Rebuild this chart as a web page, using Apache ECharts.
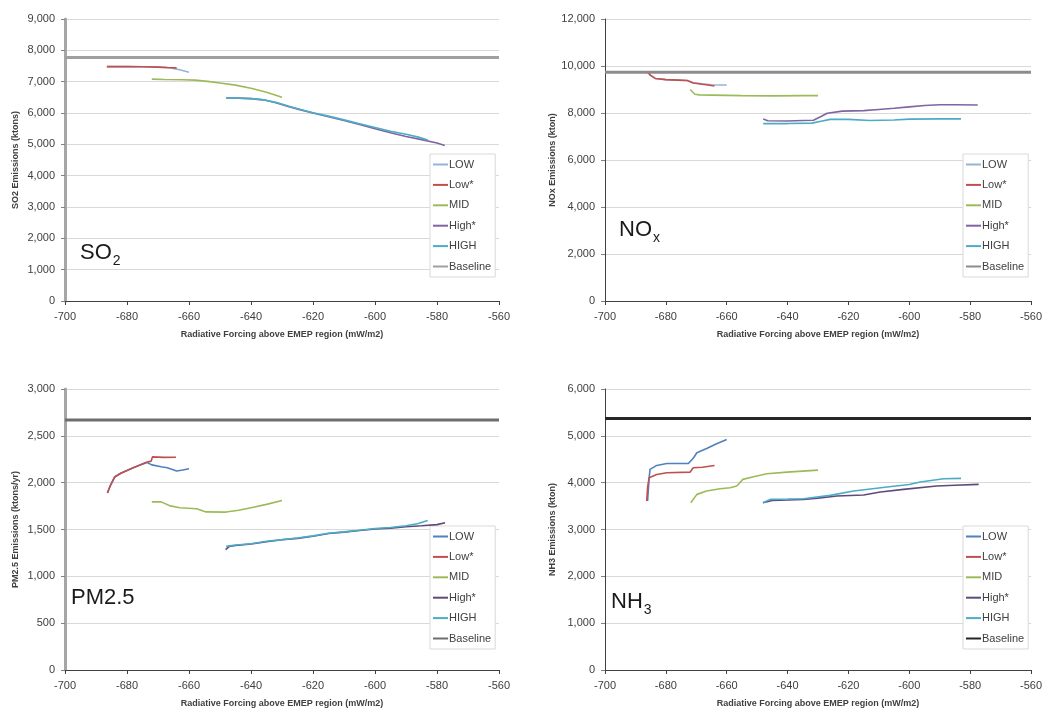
<!DOCTYPE html>
<html><head><meta charset="utf-8">
<script src="https://cdn.jsdelivr.net/npm/echarts@6/dist/echarts.min.js"></script>
<style>html,body{margin:0;padding:0;background:#fff}#c{width:1054px;height:709px}</style>
</head><body><div id="c"></div>
<script>
// ---------- data ----------
const seriesNames = ['LOW', 'Low*', 'MID', 'High*', 'HIGH', 'Baseline'];
const xName = 'Radiative Forcing above EMEP region (mW/m2)';
const xRange = [-700, -560, 20];
const yNames = ['SO2 Emissions (ktons)', 'NOx Emissions (kton)', 'PM2.5 Emissions (ktons/yr)', 'NH3 Emissions (kton)'];
const yRanges = [[0, 9000, 1000], [0, 12000, 2000], [0, 3000, 500], [0, 6000, 1000]];
const panelLabels = [['SO', '2'], ['NO', 'x'], ['PM2.5', ''], ['NH', '3']];

const so2Low = [[-686.5,7480],[-680,7480],[-675,7475],[-670,7465],[-666,7440],[-663,7380],[-660,7300]];
const so2LowStar = [[-686.5,7480],[-680,7480],[-675,7475],[-670,7465],[-667,7450],[-664,7440]];
const so2Mid = [[-672,7080],[-668,7070],[-662,7060],[-658,7050],[-654,7010],[-650,6960],[-645,6890],[-640,6790],[-635,6660],[-630,6500]];
const so2HighStar = [[-648,6480],[-644,6475],[-640,6460],[-636,6420],[-632,6330],[-628,6210],[-624,6100],[-620,6000],[-615,5880],[-610,5760],[-605,5630],[-600,5500],[-595,5370],[-590,5250],[-585,5150],[-580,5040],[-577.5,4960]];
const so2High = [[-648,6480],[-644,6475],[-640,6460],[-636,6420],[-632,6340],[-628,6220],[-624,6110],[-620,6010],[-615,5900],[-610,5780],[-605,5660],[-600,5540],[-595,5420],[-590,5320],[-586,5230],[-583,5140]];
const so2Base = [[-700,7770],[-560,7770]];

const noxLow = [[-686,9740],[-685,9600],[-683.5,9470],[-680,9420],[-676,9400],[-673,9380],[-671,9290],[-668,9240],[-665,9200],[-662,9190],[-660,9190]];
const noxLowStar = [[-686,9740],[-685,9600],[-683.5,9470],[-680,9420],[-676,9400],[-673,9380],[-671,9280],[-668,9220],[-664,9150]];
const noxMid = [[-672,9000],[-670.5,8800],[-669,8770],[-665,8760],[-655,8740],[-645,8730],[-635,8740],[-630,8740]];
const noxHighStar = [[-648,7740],[-646.5,7670],[-640,7660],[-635,7680],[-631.5,7690],[-629,7850],[-627,7990],[-622,8080],[-615,8100],[-610,8150],[-605,8200],[-600,8260],[-595,8320],[-590,8350],[-585,8350],[-577.5,8340]];
const noxHigh = [[-648,7550],[-640,7550],[-632,7570],[-629,7650],[-626,7730],[-620,7730],[-613,7680],[-605,7700],[-600,7740],[-590,7750],[-583,7750]];
const noxBase = [[-700,9730],[-560,9730]];

const pmLow = [[-686.3,1890],[-685.5,1960],[-684,2060],[-682,2100],[-680,2130],[-678,2160],[-676,2185],[-673.5,2215],[-672,2190],[-669,2170],[-667,2160],[-664,2125],[-662,2135],[-660,2148]];
const pmLowStar = [[-686.3,1890],[-685.5,1960],[-684,2060],[-682,2100],[-680,2130],[-678,2160],[-676,2185],[-674,2215],[-672.2,2230],[-671.8,2275],[-668,2270],[-664.2,2272]];
const pmMid = [[-672,1795],[-669,1795],[-666,1752],[-663,1733],[-657.5,1722],[-654.5,1688],[-648,1686],[-644,1705],[-640,1733],[-635,1768],[-630,1810]];
const pmHighStar = [[-648.2,1285],[-647,1320],[-645,1330],[-640,1345],[-635,1370],[-630,1390],[-625,1405],[-620,1428],[-615,1458],[-610,1472],[-605,1490],[-600,1505],[-595,1515],[-590,1530],[-585,1540],[-580,1552],[-577.4,1573]];
const pmHigh = [[-648,1320],[-645,1335],[-640,1348],[-635,1375],[-630,1392],[-625,1410],[-620,1432],[-615,1460],[-610,1475],[-605,1492],[-600,1510],[-595,1522],[-590,1540],[-586,1565],[-583,1597]];
const pmBase = [[-700,2670],[-560,2670]];

const nh3Low = [[-686,3608],[-685.5,4100],[-685.2,4283],[-683,4368],[-679.7,4410],[-672.6,4410],[-671,4520],[-669.8,4638],[-666.6,4730],[-663.3,4830],[-660,4922]];
const nh3LowStar = [[-686.3,3608],[-686,3900],[-685.5,4105],[-683,4176],[-679.7,4212],[-672,4226],[-671,4318],[-668,4330],[-664,4368]];
const nh3Mid = [[-671.8,3572],[-669.8,3750],[-666.6,3821],[-662.2,3871],[-658.9,3892],[-656.7,3928],[-654.7,4070],[-651.2,4126],[-646.8,4190],[-640.2,4226],[-630,4268]];
const nh3HighStar = [[-648.1,3572],[-645,3620],[-640,3630],[-634.8,3643],[-630,3670],[-623.8,3714],[-615,3736],[-609.5,3800],[-601.9,3857],[-591,3928],[-585,3945],[-577.2,3963]];
const nh3High = [[-648.1,3572],[-645.7,3643],[-640,3650],[-634.8,3658],[-626,3729],[-618.3,3821],[-607.3,3906],[-600,3960],[-596.4,4013],[-588.7,4084],[-583,4091]];
const nh3Base = [[-700,5370],[-560,5370]];

const panelData = [
  [so2Low, so2LowStar, so2Mid, so2HighStar, so2High, so2Base],
  [noxLow, noxLowStar, noxMid, noxHighStar, noxHigh, noxBase],
  [pmLow, pmLowStar, pmMid, pmHighStar, pmHigh, pmBase],
  [nh3Low, nh3LowStar, nh3Mid, nh3HighStar, nh3High, nh3Base]
];

// ---------- styles ----------
const FONT = 'Liberation Sans';
const panelColors = [
  ['#95b3d7', '#c0504d', '#9bbb59', '#8064a2', '#4bacc6', '#a0a0a0'],
  ['#95b3d7', '#c0504d', '#9bbb59', '#8064a2', '#4bacc6', '#8c8c8c'],
  ['#4f81bd', '#c0504d', '#9bbb59', '#604a7b', '#4bacc6', '#6e6e6e'],
  ['#4f81bd', '#c0504d', '#9bbb59', '#604a7b', '#4bacc6', '#262626']
];
const gridsPos = [
  {left: 65, top: 19, width: 434, height: 282},
  {left: 605, top: 19, width: 426, height: 282},
  {left: 65, top: 389, width: 434, height: 282},
  {left: 605, top: 389, width: 426, height: 282}
];
const yAxisLine = [
  {color: '#a6a6a6', width: 3},
  {color: '#404040', width: 1},
  {color: '#a6a6a6', width: 3},
  {color: '#404040', width: 1}
];
const legendPos = [
  {left: 430, top: 154}, {left: 963, top: 154}, {left: 430, top: 526}, {left: 963, top: 526}
];
const labelPos = [
  {x: 80, y: 253, dy: 8},
  {x: 619, y: 230, dy: 8},
  {x: 71, y: 598, dy: 8},
  {x: 611, y: 602, dy: 8}
];
const MAIN_FONT = '22px ' + FONT;
const SUB_FONT = '14px ' + FONT;
const measureCtx = document.createElement('canvas').getContext('2d');
function textWidth(t, font) { measureCtx.font = font; return measureCtx.measureText(t).width; }

const fmt = v => String(v).replace(/\B(?=(\d{3})+(?!\d))/g, ',');

const option = {
  animation: false,
  backgroundColor: '#ffffff',
  grid: gridsPos,
  xAxis: gridsPos.map((g, i) => ({
    type: 'value', gridIndex: i, min: xRange[0], max: xRange[1], interval: xRange[2],
    name: xName, nameLocation: 'middle', nameGap: 29,
    nameTextStyle: {fontFamily: FONT, fontSize: 9, fontWeight: 'bold', color: '#404040'},
    axisLine: {show: true, lineStyle: {color: '#404040', width: 1}},
    axisTick: {show: true, length: 4, lineStyle: {color: '#404040'}},
    axisLabel: {fontFamily: FONT, fontSize: 11, color: '#404040', margin: 10, formatter: fmt},
    splitLine: {show: false}
  })),
  yAxis: gridsPos.map((g, i) => ({
    type: 'value', gridIndex: i, min: yRanges[i][0], max: yRanges[i][1], interval: yRanges[i][2],
    name: yNames[i], nameLocation: 'middle', nameGap: i % 2 === 0 ? 45 : 48, nameRotate: 90,
    nameTextStyle: {fontFamily: FONT, fontSize: 9, fontWeight: 'bold', color: '#404040'},
    axisLine: {show: true, lineStyle: yAxisLine[i]},
    axisTick: {show: true, length: 4, lineStyle: {color: '#808080'}},
    axisLabel: {fontFamily: FONT, fontSize: 11, color: '#404040', margin: 10, formatter: fmt},
    splitLine: {show: true, lineStyle: {color: '#d9d9d9', width: 1}}
  })),
  legend: legendPos.map((p, i) => ({
    orient: 'vertical', left: p.left, top: p.top,
    backgroundColor: '#ffffff', borderColor: '#d9d9d9', borderWidth: 1, borderRadius: 0,
    padding: [5, 4, 5, 3], itemGap: 9.4, itemWidth: 15, itemHeight: 2, icon: 'rect',
    textStyle: {fontFamily: FONT, fontSize: 11, color: '#404040', padding: [0, 0, 0, -4]},
    selectedMode: false,
    data: seriesNames.map((n, j) => ({name: n, itemStyle: {color: panelColors[i][j]}}))
  })),
  graphic: labelPos.flatMap((p, i) => {
    const els = [{type: 'text', x: p.x, y: p.y, style: {text: panelLabels[i][0], font: MAIN_FONT, fill: '#1a1a1a', verticalAlign: 'middle'}}];
    if (panelLabels[i][1]) {
      els.push({type: 'text', x: p.x + textWidth(panelLabels[i][0], MAIN_FONT) + 1, y: p.y + p.dy,
        style: {text: panelLabels[i][1], font: SUB_FONT, fill: '#1a1a1a', verticalAlign: 'middle'}});
    }
    return els;
  }),
  series: panelData.flatMap((arrs, i) => arrs.map((d, j) => ({
    type: 'line', name: seriesNames[j], xAxisIndex: i, yAxisIndex: i, data: d,
    symbol: 'none', smooth: false,
    lineStyle: {color: panelColors[i][j], width: j === 5 ? 3 : 1.6},
    itemStyle: {color: panelColors[i][j]},
    z: 2 + j
  })))
};

const chart = echarts.init(document.getElementById('c'), null, {renderer: 'canvas'});
chart.setOption(option);
</script>
</body></html>
